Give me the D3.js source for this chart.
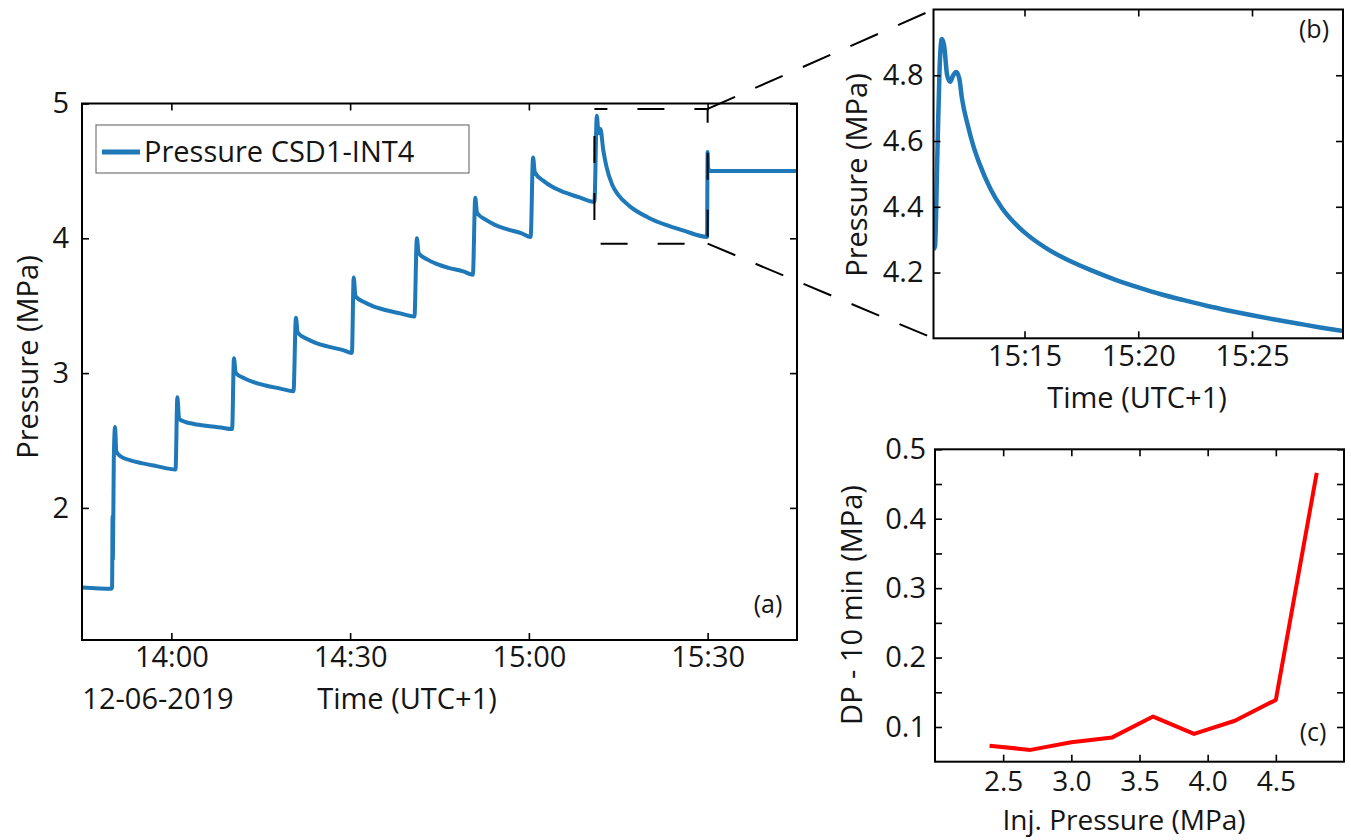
<!DOCTYPE html>
<html><head><meta charset="utf-8">
<script src="https://cdn.jsdelivr.net/npm/d3@7"></script>
<style>
body{margin:0;background:#fff;}
svg{font-family:"Open Sans",sans-serif;}
</style></head><body>
<svg id="chart" width="1351" height="840"></svg>
<script>
// ---------- DATA ----------
const day = "2019-06-12";
// Panel (a): full test, pressure CSD1-INT4 (MPa)
const timesA = [
 "13:45:00","13:49:57","13:50:03","13:50:08","13:50:11","13:50:20","13:50:33","13:50:45","13:51:30","13:53:00","13:55:00","13:57:30","14:00:42",
 "14:01:00","14:01:18","14:02:18","14:03:48","14:05:48","14:08:18","14:10:12",
 "14:10:30","14:10:48","14:12:18","14:13:48","14:15:48","14:18:18","14:20:30",
 "14:20:54","14:21:12","14:22:42","14:24:12","14:26:12","14:28:42","14:30:18",
 "14:30:36","14:30:54","14:32:24","14:33:54","14:35:54","14:38:24","14:40:48",
 "14:41:12","14:41:30","14:43:00","14:44:30","14:46:30","14:49:00","14:50:36",
 "14:51:00","14:51:18","14:52:48","14:54:18","14:56:18","14:58:48","15:00:18",
 "15:00:42","15:01:00","15:02:30","15:04:00","15:06:00","15:08:30","15:11:00",
 "15:11:24","15:11:42","15:12:00","15:12:30","15:13:00","15:14:00","15:15:00","15:17:00","15:20:00","15:23:00","15:26:00","15:29:54",
 "15:30:00","15:30:06","15:30:30","15:45:00"];
const valuesA = [
 1.41,1.40,1.41,1.94,1.62,2.35,2.60,2.42,2.381,2.355,2.332,2.31,2.285,
 2.82,2.66,2.638,2.623,2.609,2.596,2.585,
 3.11,3.00,2.96,2.933,2.908,2.885,2.865,
 3.41,3.30,3.255,3.225,3.198,3.172,3.15,
 3.71,3.57,3.525,3.495,3.468,3.443,3.42,
 4.00,3.89,3.842,3.81,3.781,3.754,3.73,
 4.30,4.19,4.136,4.10,4.068,4.037,4.01,
 4.60,4.49,4.424,4.38,4.34,4.303,4.27,
 4.91,4.78,4.81,4.65,4.535,4.395,4.322,4.235,4.155,4.099,4.057,4.01,
 4.64,4.52,4.50,4.50];
// Panel (b): zoom on the 9th step
const timesB = ["15:11:00","15:11:04","15:11:10","15:11:16","15:11:22","15:11:28","15:11:36","15:11:44","15:11:52","15:12:00","15:12:08","15:12:15",
 "15:12:30","15:12:45","15:13:00","15:13:30","15:14:00","15:14:30","15:15:00","15:16:00","15:17:00","15:18:00","15:19:00","15:20:00",
 "15:21:00","15:22:00","15:23:00","15:24:00","15:25:00","15:26:00","15:27:00","15:28:00","15:29:00"];
const valuesB = [4.27,4.28,4.55,4.82,4.91,4.89,4.80,4.78,4.80,4.81,4.79,4.73,
 4.65,4.585,4.535,4.455,4.397,4.355,4.322,4.272,4.235,4.205,4.178,4.155,
 4.134,4.116,4.099,4.084,4.07,4.057,4.045,4.033,4.022];
// Panel (c)
const injPressure = [2.4,2.7,3.0,3.3,3.6,3.9,4.2,4.5,4.8];
const dp10min = [0.073,0.067,0.078,0.085,0.115,0.090,0.109,0.139,0.466];

// ticks & labels
const ticksAx = ["14:00","14:30","15:00","15:30"];
const ticksAy = [2,3,4,5];
const ticksBx = ["15:15","15:20","15:25"];
const ticksBy = [4.2,4.4,4.6,4.8];
const ticksCx = [2.5,3.0,3.5,4.0,4.5];
const ticksCy = [0.1,0.15,0.2,0.25,0.3,0.35,0.4,0.45,0.5];
const zoomBoxTimes = ["15:11:00","15:30:00"];
const zoomBoxValues = [3.96,4.96];
const legendLabel = "Pressure CSD1-INT4";

// ---------- DRAW ----------
const parse = d3.timeParse("%Y-%m-%d %H:%M:%S");
const pt = s => parse(day + " " + (s.length === 5 ? s + ":00" : s));
const svg = d3.select("#chart");
const blue = "#1f78b8";
const FS = 29;
const TXT = "#151515";

function boxAxes(g, x, y, xt, yt, fmtX, fmtY, padX, padY, yMajor, fsX) {
  const r = x.range(), b = y.range();
  const W = r[1]-r[0], H = b[0]-b[1];
  const gx = g.append("g").attr("transform", `translate(0,${b[0]})`)
    .call(d3.axisBottom(x).tickValues(xt).tickFormat(fmtX).tickSizeInner(-7).tickSizeOuter(0).tickPadding(padX));
  g.append("g").attr("transform", `translate(0,${b[1]})`)
    .call(d3.axisTop(x).tickValues(xt).tickFormat(() => "").tickSizeInner(-7).tickSizeOuter(0));
  g.append("g").attr("transform", `translate(${r[0]},0)`)
    .call(d3.axisLeft(y).tickValues(yt).tickFormat(d => (!yMajor || yMajor(d)) ? fmtY(d) : "").tickSizeInner(-7).tickSizeOuter(0).tickPadding(padY));
  g.append("g").attr("transform", `translate(${r[1]},0)`)
    .call(d3.axisRight(y).tickValues(yt).tickFormat(() => "").tickSizeInner(-7).tickSizeOuter(0));
  g.selectAll(".domain").remove();
  g.selectAll(".tick line").attr("stroke", "#000").attr("stroke-width", 1.6);
  g.selectAll(".tick text").attr("font-size", FS).attr("fill", TXT).attr("font-family", "Open Sans");
  if (fsX) gx.selectAll(".tick text").attr("font-size", fsX);
  g.append("rect").attr("x", r[0]).attr("y", b[1]).attr("width", W).attr("height", H)
    .attr("fill", "none").attr("stroke", "#000").attr("stroke-width", 2);
}
function label(g, x, y, txt, size, rot) {
  const t = g.append("text").attr("text-anchor","middle").attr("font-size",size).attr("fill",TXT).text(txt);
  if (rot) t.attr("transform",`translate(${x},${y}) rotate(-90)`); else t.attr("x",x).attr("y",y);
  return t;
}

// ---- Panel (a)
const xA = d3.scaleTime().domain([pt("13:45"), pt("15:45")]).range([82, 797]);
const yA = d3.scaleLinear().domain([1.02, 5]).range([640, 103.5]);
const gA = svg.append("g");
svg.append("clipPath").attr("id","clipA").append("rect").attr("x",82).attr("y",103.5).attr("width",715).attr("height",536.5);
gA.append("path").datum(timesA.map((t,i)=>[pt(t), valuesA[i]]))
  .attr("clip-path","url(#clipA)")
  .attr("fill","none").attr("stroke",blue).attr("stroke-width",4).attr("stroke-linejoin","round")
  .attr("d", d3.line().x(d=>xA(d[0])).y(d=>yA(d[1])).curve(d3.curveMonotoneX));
boxAxes(gA, xA, yA, ticksAx.map(pt), ticksAy, d3.timeFormat("%H:%M"), d3.format("d"), 6, 13);
// zoom box (dashed)
const bx0 = xA(pt(zoomBoxTimes[0])), bx1 = xA(pt(zoomBoxTimes[1]));
const by0 = yA(zoomBoxValues[1]), by1 = yA(zoomBoxValues[0]);
gA.append("rect").attr("x",bx0).attr("y",by0).attr("width",bx1-bx0).attr("height",by1-by0)
  .attr("fill","none").attr("stroke","#000").attr("stroke-width",2)
  .attr("stroke-dasharray","27,30").attr("stroke-dashoffset",14);
// legend
const lg = gA.append("g");
lg.append("rect").attr("x",96).attr("y",125).attr("width",373).attr("height",48)
  .attr("fill","#fff").attr("stroke","#777").attr("stroke-width",1.2);
lg.append("line").attr("x1",102).attr("x2",140).attr("y1",152).attr("y2",152).attr("stroke",blue).attr("stroke-width",5);
lg.append("text").attr("x",144).attr("y",162).attr("font-size",29).attr("fill",TXT).text(legendLabel);
// labels
label(gA, 38, 357, "Pressure (MPa)", FS, true);
label(gA, 158, 709, "12-06-2019", FS);
label(gA, 407, 709, "Time (UTC+1)", FS);
label(gA, 768, 613, "(a)", 25);

// ---- Panel (b)
const xB = d3.scaleTime().domain([pt("15:11"), pt("15:29")]).range([933.5, 1343]);
const yB = d3.scaleLinear().domain([4.0, 5.0]).range([338.3, 9.5]);
const gB = svg.append("g");
svg.append("clipPath").attr("id","clipB").append("rect").attr("x",933.5).attr("y",9.5).attr("width",409.5).attr("height",328.8);
gB.append("path").datum(timesB.map((t,i)=>[pt(t), valuesB[i]]))
  .attr("clip-path","url(#clipB)")
  .attr("fill","none").attr("stroke",blue).attr("stroke-width",4.5).attr("stroke-linejoin","round")
  .attr("d", d3.line().x(d=>xB(d[0])).y(d=>yB(d[1])).curve(d3.curveMonotoneX));
boxAxes(gB, xB, yB, ticksBx.map(pt), ticksBy, d3.timeFormat("%H:%M"), d3.format(".1f"), 7, 10);
label(gB, 867, 175, "Pressure (MPa)", FS, true);
label(gB, 1137, 408, "Time (UTC+1)", FS);
label(gB, 1314, 38, "(b)", 25);

// connectors
const cA = svg.append("g").attr("stroke","#000").attr("stroke-width",2).attr("stroke-dasharray","30,22");
cA.append("line").attr("x1",bx1).attr("y1",by0).attr("x2",xB.range()[0]).attr("y2",yB.range()[1]);
cA.append("line").attr("x1",bx1).attr("y1",by1).attr("x2",xB.range()[0]).attr("y2",yB.range()[0]);

// ---- Panel (c)
const xC = d3.scaleLinear().domain([2.0, 5.0]).range([935, 1344]);
const yC = d3.scaleLinear().domain([0.05, 0.5]).range([761.7, 449.3]);
const gC = svg.append("g");
gC.append("path").datum(injPressure.map((v,i)=>[v, dp10min[i]]))
  .attr("fill","none").attr("stroke","#ff0000").attr("stroke-width",4).attr("stroke-linejoin","round")
  .attr("d", d3.line().x(d=>xC(d[0])).y(d=>yC(d[1])));
boxAxes(gC, xC, yC, ticksCx, ticksCy, d3.format(".1f"), d3.format(".1f"), 9, 9,
  d => Math.abs(Math.round(d*10) - d*10) < 1e-6, 28);
label(gC, 862, 605, "DP - 10 min (MPa)", FS, true);
label(gC, 1124, 830, "Inj. Pressure (MPa)", 28);
label(gC, 1313, 741, "(c)", 25);
</script>
</body></html>
